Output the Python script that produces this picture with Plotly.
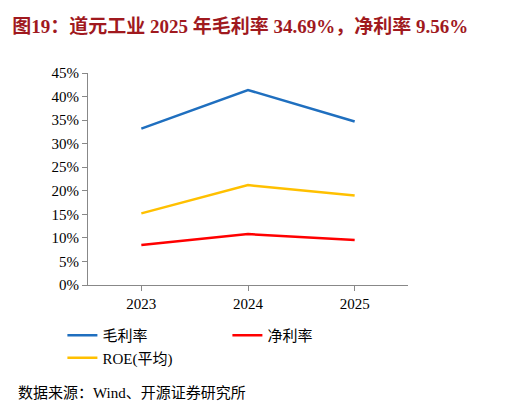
import plotly.graph_objects as go

years = ["2023", "2024", "2025"]
gross = [33.2, 41.4, 34.69]
net = [8.5, 10.8, 9.56]
roe = [15.2, 21.2, 19.0]
names = ["毛利率", "净利率", "ROE(平均)"]
colors = ["#1F6FBF", "#FF0000", "#FFC000"]

fig = go.Figure()
for n, v, c in zip(names, [gross, net, roe], colors):
    fig.add_trace(go.Scatter(x=years, y=v, name=n, mode="lines",
                             line=dict(color=c, width=2.5)))

font = "Liberation Serif, Noto Sans CJK SC"
fig.update_layout(
    width=522, height=405, paper_bgcolor="white", plot_bgcolor="white",
    margin=dict(l=80, r=122, t=65, b=128, autoexpand=False),
    font=dict(family=font, size=15, color="black"),
    xaxis=dict(showline=True, linecolor="#888", ticks="outside", tickcolor="#888",
               showgrid=False, range=[-0.5, 2.5]),
    yaxis=dict(range=[0, 45], dtick=5, ticksuffix="%", showline=True, linecolor="#888",
               ticks="outside", tickcolor="#888", showgrid=False),
    legend=dict(orientation="h", x=-0.08, y=-0.29, xanchor="left", yanchor="middle",
                font=dict(size=15), entrywidth=120, entrywidthmode="pixels"),
    title=dict(text="<b>图19：道元工业 2025 年毛利率 34.69%，净利率 9.56%</b>",
               x=0.008, xanchor="left", y=0.955, yanchor="middle",
               font=dict(size=19, color="#A0191E", family=font)),
)
fig.add_annotation(text="数据来源：Wind、开源证券研究所", xref="paper", yref="paper",
                   x=-0.225, y=-0.51, xanchor="left", yanchor="middle", showarrow=False,
                   font=dict(size=15, family=font))
fig.write_html("out.html")
